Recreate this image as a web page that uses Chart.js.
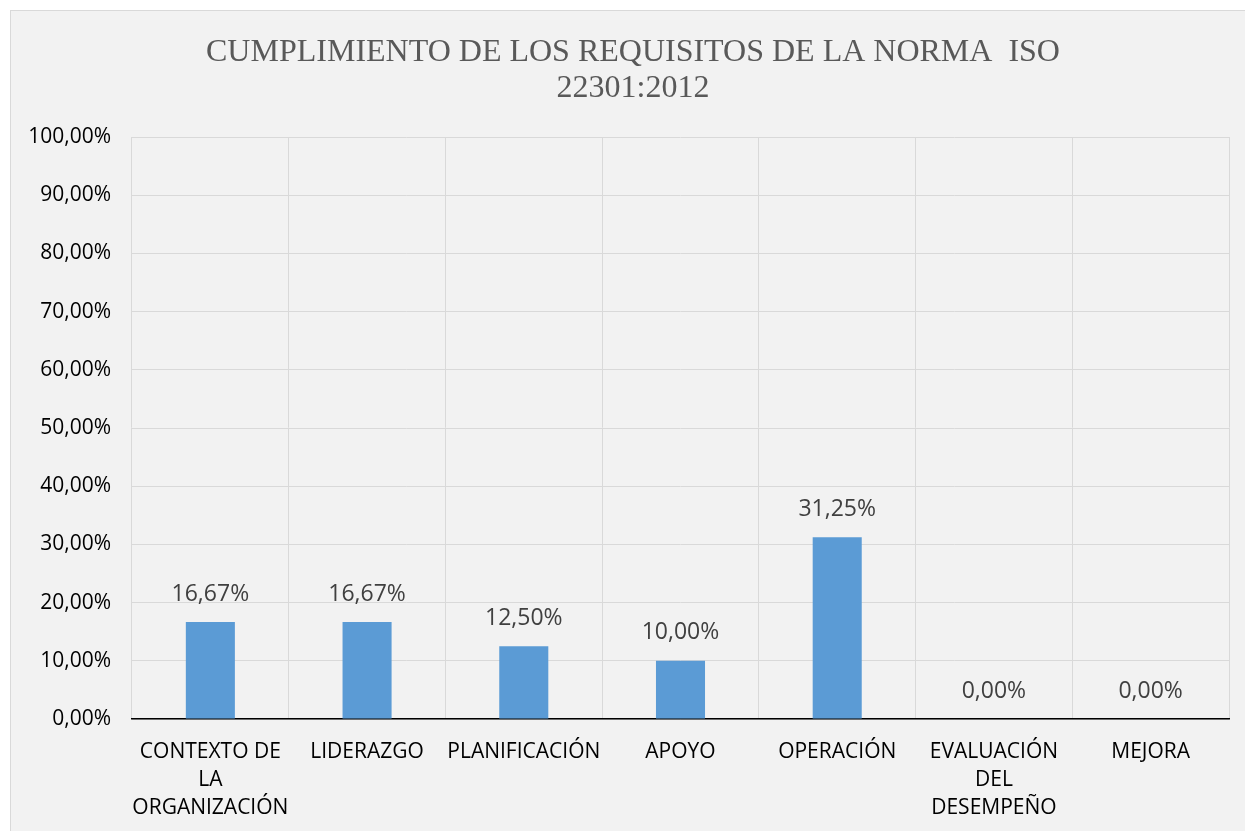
<!DOCTYPE html>
<html>
<head>
<meta charset="utf-8">
<script src="https://cdn.jsdelivr.net/npm/chart.js@4"></script>
<style>
    body { margin: 0; background: #ffffff; overflow: hidden; }
    #frame {
        position: absolute; left: 10px; top: 10px;
        width: 1240px; height: 825px;
        background: #f2f2f2;
        border-top: 1px solid #d9d9d9; border-left: 1px solid #d9d9d9;
    }
</style>
</head>
<body>
<div id="frame"><canvas id="chart" width="1240" height="825"></canvas></div>
<script>
// Datos del gráfico
const categorias = [
    ['CONTEXTO DE', 'LA', 'ORGANIZACIÓN'],
    'LIDERAZGO',
    'PLANIFICACIÓN',
    'APOYO',
    'OPERACIÓN',
    ['EVALUACIÓN', 'DEL', 'DESEMPEÑO'],
    'MEJORA'
];
const cumplimiento = [16.67, 16.67, 12.5, 10, 31.25, 0, 0];
const tituloLineas = ['CUMPLIMIENTO DE LOS REQUISITOS DE LA NORMA  ISO', '22301:2012'];

function formatoPorcentaje(v) {
    return v.toFixed(2).replace('.', ',') + '%';
}

// Título (centrado sobre todo el marco, no sólo sobre el canvas visible)
const tituloGrafico = {
    id: 'tituloGrafico',
    afterDraw(chart) {
        const ctx = chart.ctx;
        ctx.save();
        ctx.font = '32px "Liberation Serif", "Times New Roman", serif';
        ctx.fillStyle = '#595959';
        ctx.textAlign = 'center';
        ctx.textBaseline = 'middle';
        tituloLineas.forEach((linea, i) => {
            ctx.fillText(linea, 622, 42 + i * 36);
        });
        ctx.restore();
    }
};

// Etiquetas de datos sobre las barras
const etiquetasDatos = {
    id: 'etiquetasDatos',
    afterDatasetsDraw(chart) {
        const ctx = chart.ctx;
        const meta = chart.getDatasetMeta(0);
        ctx.save();
        ctx.font = '23px "Open Sans"';
        ctx.fillStyle = '#404040';
        ctx.textAlign = 'center';
        ctx.textBaseline = 'middle';
        meta.data.forEach((bar, i) => {
            ctx.fillText(formatoPorcentaje(cumplimiento[i]), bar.x, bar.y - 28);
        });
        ctx.restore();
    }
};

new Chart(document.getElementById('chart').getContext('2d'), {
    type: 'bar',
    data: {
        labels: categorias,
        datasets: [{
            data: cumplimiento,
            backgroundColor: '#5b9bd5',
            categoryPercentage: 1,
            barPercentage: 0.313
        }]
    },
    options: {
        responsive: false,
        animation: false,
        layout: { padding: { left: 0, right: 22, top: 126, bottom: 0 } },
        plugins: {
            legend: { display: false },
            tooltip: { enabled: false },
            title: { display: false }
        },
        scales: {
            x: {
                grid: { color: '#d9d9d9', offset: true, drawTicks: false },
                border: { display: true, color: '#000000', width: 1.5 },
                ticks: {
                    color: '#000000',
                    padding: 19,
                    maxRotation: 0,
                    autoSkip: false,
                    font: { family: '"Open Sans"', size: 21, lineHeight: 1.33 }
                },
                afterFit(scale) { scale.height = 117; }
            },
            y: {
                min: 0,
                max: 100,
                ticks: {
                    stepSize: 10,
                    color: '#000000',
                    padding: 21,
                    font: { family: '"Open Sans"', size: 21 },
                    callback: v => formatoPorcentaje(v)
                },
                grid: { color: '#d9d9d9', drawTicks: false },
                border: { display: false },
                afterFit(scale) { scale.width = 121; }
            }
        }
    },
    plugins: [etiquetasDatos, tituloGrafico]
});
</script>
</body>
</html>
